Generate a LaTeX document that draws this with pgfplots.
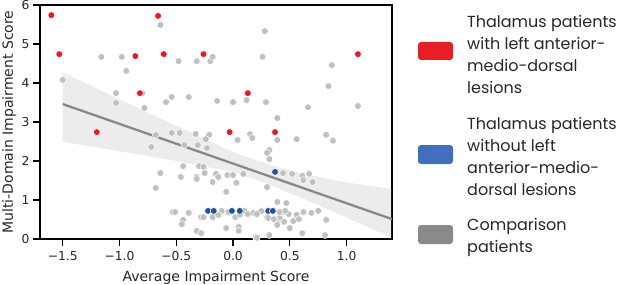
\documentclass[border=0pt]{standalone}
\usepackage{fontspec}
\setmainfont{DejaVu Sans}
\newfontfamily\legfont{Poppins}
\usepackage{pgfplots}
\pgfplotsset{compat=1.18}
\definecolor{ptgray}{RGB}{192,192,192}
\definecolor{lngray}{RGB}{136,136,136}
\definecolor{ptred}{RGB}{228,28,34}
\definecolor{ptblue}{RGB}{44,78,160}
\definecolor{lgred}{RGB}{232,30,38}
\definecolor{lgblue}{RGB}{66,110,190}
\definecolor{lggray}{RGB}{138,138,138}
\begin{document}
\begin{tikzpicture}
\path[use as bounding box] (-40pt,-45pt) rectangle (577pt,239pt);
\begin{axis}[
  at={(0pt,0pt)}, anchor=south west,
  scale only axis, width=352pt, height=234pt,
  xmin=-1.70, xmax=1.40, ymin=0, ymax=6,
  axis line style={black, line width=1.3pt},
  xtick={-1.5,-1,-0.5,0,0.5,1},
  xticklabels={−1.5,−1.0,−0.5,0.0,0.5,1.0},
  ytick={0,1,2,3,4,5,6},
  yticklabels={0,1,2,3,4,5,6},
  tick pos=left, tick align=outside,
  major tick length=7pt,
  tick style={black, line width=1.1pt},
  ticklabel style={font=\fontsize{12.3}{14}\selectfont, text=black!85},
  xticklabel style={yshift=-2pt},
  xlabel={Average Impairment Score},
  ylabel={Multi-Domain Impairment Score},
  label style={font=\fontsize{14}{16}\selectfont, text=black!85},
  xlabel style={yshift=-3pt},
  ylabel style={yshift=-1pt},
  clip=true,
]
% comparison patients
\addplot[only marks, mark=*, mark size=3.4pt,
  mark options={fill=ptgray, draw=white, line width=0.5pt}] table {
x y
-0.64 5.49
-1.16 4.67
-0.98 4.67
-0.94 4.31
-1.50 4.08
-1.03 3.74
-1.03 3.49
-0.78 3.36
-0.59 3.51
-0.54 3.64
-0.39 3.64
-0.48 4.56
-0.32 4.56
-0.20 4.56
-0.68 2.67
-0.54 2.72
-0.47 2.72
-0.33 2.69
-0.21 2.67
-0.24 2.56
-0.31 2.41
-0.43 2.41
-0.23 2.33
-0.80 3.74
0.28 5.33
-0.18 4.67
0.26 4.67
0.87 4.46
0.84 3.92
-0.14 3.54
0.00 3.51
0.12 3.56
0.29 3.51
0.66 3.38
1.10 3.41
0.39 3.10
0.15 2.69
0.17 2.59
0.04 2.54
0.39 2.54
0.56 2.56
0.82 2.67
0.88 2.52
0.32 2.28
0.30 2.21
0.32 2.05
-0.72 2.36
-0.44 1.87
-0.64 1.69
-0.46 1.59
-0.32 1.59
-0.32 1.54
-0.68 1.31
-0.30 1.87
-0.26 1.85
-0.25 1.69
-0.53 0.69
-0.51 0.69
-0.39 0.67
-0.44 0.49
-0.45 0.38
-0.28 0.56
-0.26 0.56
-0.32 0.21
-0.28 0.15
-0.18 1.46
-0.15 1.67
-0.13 1.59
-0.05 1.64
0.00 1.64
0.03 1.44
0.09 1.67
-0.06 1.21
-0.18 0.56
-0.12 0.62
-0.05 0.69
0.02 0.56
0.12 0.67
0.18 0.67
0.22 0.67
-0.06 0.28
0.05 0.31
0.05 0.21
0.20 0.05
0.44 1.69
0.52 1.67
0.61 1.62
0.67 1.67
0.62 1.51
0.70 1.46
0.30 1.33
0.39 0.95
0.47 0.92
0.44 0.69
0.49 0.64
0.56 0.62
0.62 0.69
0.69 0.67
0.75 0.72
0.82 0.49
0.41 0.54
0.45 0.44
0.53 0.46
0.58 0.51
0.37 0.49
0.30 0.56
0.39 0.41
0.50 0.28
0.61 0.15
0.81 0.10
0.32 0.10
0.26 0.72
-0.10 0.72
-0.04 0.69
0.10 0.72
0.25 0.72
0.41 0.69
0.46 0.72
-0.13 0.62
0.06 0.62
0.13 0.64
0.21 0.64
0.31 0.54
0.36 0.51
0.39 0.36
0.21 0.03
};

% confidence band (upper edge then lower edge reversed)
\addplot[fill=lngray, fill opacity=0.16, draw=none] table {
x y
-1.50 4.28
-1.00 3.58
-0.50 2.90
-0.20 2.50
0.00 2.23
0.30 1.92
0.66 1.64
1.00 1.45
1.40 1.28
1.40 0.03
1.00 0.55
0.66 0.98
0.30 1.42
0.00 1.72
-0.50 2.00
-1.00 2.25
-1.50 2.49
} -- cycle;

% regression line
\addplot[lngray, line width=2.3pt] table {
x y
-1.50 3.46
1.40 0.51
};

% thalamus with left AMD lesions
\addplot[only marks, mark=*, mark size=3.4pt,
  mark options={fill=ptred, draw=white, line width=0.5pt}] table {
x y
-1.60 5.74
-1.53 4.74
-1.20 2.74
-0.86 4.69
-0.82 3.74
-0.66 5.72
-0.61 4.74
-0.26 4.74
0.13 3.74
-0.03 2.74
0.37 2.74
1.10 4.74
};

% thalamus without left AMD lesions
\addplot[only marks, mark=*, mark size=3.4pt,
  mark options={fill=ptblue, draw=white, line width=0.5pt}] table {
x y
-0.22 0.72
-0.17 0.72
-0.01 0.72
0.06 0.72
0.31 0.72
0.35 0.72
0.37 1.72
};
\end{axis}
% legend
\begin{scope}[every node/.style={anchor=west, align=left, inner sep=0pt,
    font=\legfont\fontsize{16}{22}\selectfont, text=black!85}]
\fill[lgred, rounded corners=3pt] (378pt,179pt) rectangle (413pt,197pt);
\node at (427pt,185pt) {Thalamus patients\\with left anterior-\\medio-dorsal\\lesions};
\fill[lgblue, rounded corners=3pt] (378pt,75pt) rectangle (413pt,94pt);
\node at (427pt,83pt) {Thalamus patients\\without left\\anterior-medio-\\dorsal lesions};
\fill[lggray, rounded corners=3pt] (378pt,-5pt) rectangle (413pt,14pt);
\node at (427pt,2pt) {Comparison\\patients};
\end{scope}
\end{tikzpicture}
\end{document}
